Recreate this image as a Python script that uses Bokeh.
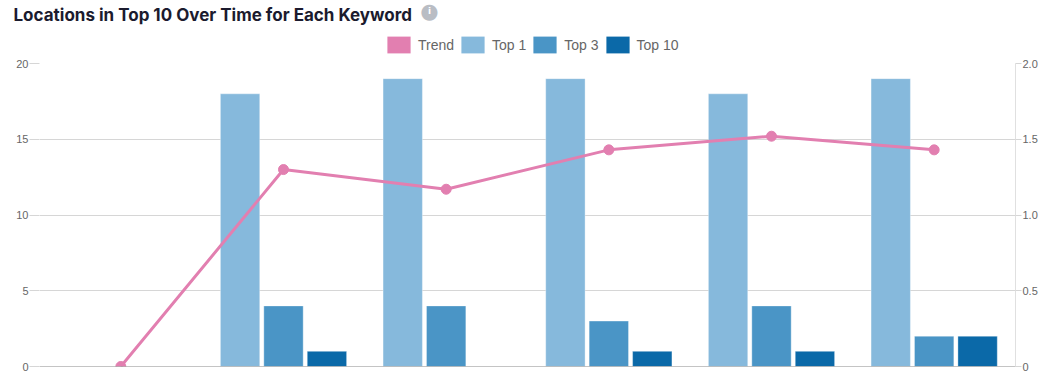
from bokeh.plotting import figure
from bokeh.layouts import column
from bokeh.models import (Range1d, FactorRange, LinearAxis, FixedTicker, Span,
                          Label, Legend, LegendItem, ColumnDataSource)
from bokeh.transform import dodge
from bokeh.embed import file_html
from bokeh.resources import INLINE

# ---- data ----
periods = ["1", "2", "3", "4", "5", "6"]
top1 = [0, 18, 19, 19, 18, 19]
top3 = [0, 4, 4, 3, 4, 2]
top10 = [0, 1, 0, 1, 1, 2]
trend = [0, 1.30, 1.17, 1.43, 1.52, 1.43]
left_ticks = [0, 5, 10, 15, 20]
right_ticks = [0, 0.5, 1.0, 1.5, 2.0]
right_tick_labels = {0: "0", 0.5: "0.5", 1: "1.0", 1.5: "1.5", 2: "2.0"}
title_text = "Locations in Top 10 Over Time for Each Keyword"
series_names = ["Trend", "Top 1", "Top 3", "Top 10"]

# ---- styles ----
C_TREND = "#e27fb0"
C_TOP1 = "#86b9dc"
C_TOP3 = "#4a95c6"
C_TOP10 = "#0b69a8"
colors = [C_TREND, C_TOP1, C_TOP3, C_TOP10]
GRID = "#d6d6d6"
TXT = "#666666"
FONT = "Liberation Sans"

W = 1040
HEAD_H = 56
MAIN_H = 373 - HEAD_H

# ---------------- header: title, info icon, legend ----------------
h = figure(width=W, height=HEAD_H, x_range=Range1d(0, 1), y_range=Range1d(0, 1),
           x_axis_type=None, y_axis_type=None, output_backend="svg",
           toolbar_location=None, min_border=0)
h.frame_align = False
h.outline_line_color = None
h.xgrid.visible = False
h.ygrid.visible = False

swatches = [h.vbar(x=[0.0], top=[0.0], width=0.0, fill_color=c,
                   line_color="white", line_alpha=0.0) for c in colors]
legend = Legend(items=[LegendItem(label=n, renderers=[r])
                       for n, r in zip(series_names, swatches)],
                orientation="horizontal", location=(384, 1),
                glyph_width=29, glyph_height=21, label_standoff=5, spacing=4,
                padding=7, margin=0, border_line_color=None,
                background_fill_alpha=0, label_text_font_size="14px",
                label_text_color=TXT, label_text_font=FONT)
h.add_layout(legend, "center")

h.add_layout(Label(x=13, y=HEAD_H - 14, x_units="screen", y_units="screen",
                   text=title_text, text_font="Inter", text_font_style="bold",
                   text_font_size="17px", text_color="#1b1b2e",
                   text_baseline="alphabetic", text_align="left"))
h.add_layout(Label(x=429, y=HEAD_H - 10, x_units="screen", y_units="screen",
                   text="\u25cf", text_font="DejaVu Sans", text_font_size="21px",
                   text_color="#b9bdc4", text_baseline="middle", text_align="center"))
h.add_layout(Label(x=429, y=HEAD_H - 10, x_units="screen", y_units="screen",
                   text="i", text_font="DejaVu Sans", text_font_style="bold",
                   text_font_size="9px", text_color="white",
                   text_baseline="middle", text_align="center"))

# ---------------- main chart ----------------
p = figure(width=W, height=MAIN_H,
           x_range=FactorRange(factors=periods), y_range=Range1d(0, 20),
           output_backend="svg", toolbar_location=None,
           min_border_left=39, min_border_right=22,
           min_border_top=63 - HEAD_H, min_border_bottom=7)
p.frame_align = False
p.extra_y_ranges = {"trend": Range1d(0, 2)}
p.outline_line_color = None
p.xaxis.visible = False
p.xgrid.visible = False

p.yaxis.ticker = FixedTicker(ticks=left_ticks)
p.ygrid.grid_line_color = GRID
p.yaxis.axis_line_color = None
p.yaxis.major_tick_out = 10
p.yaxis.major_tick_in = 0
p.yaxis.major_tick_line_color = GRID
p.yaxis.minor_tick_line_color = None
p.yaxis.major_label_text_font_size = "11px"
p.yaxis.major_label_text_color = TXT
p.yaxis.major_label_text_font = FONT
p.yaxis.major_label_standoff = 1

ax2 = LinearAxis(y_range_name="trend", ticker=FixedTicker(ticks=right_ticks),
                 axis_line_color="#e0e0e0", major_tick_out=6, major_tick_in=0,
                 major_tick_line_color=GRID, minor_tick_line_color=None,
                 major_label_text_font_size="11px", major_label_text_color=TXT,
                 major_label_text_font=FONT, major_label_standoff=1,
                 major_label_overrides=right_tick_labels)
p.add_layout(ax2, "right")

src = ColumnDataSource(dict(period=periods, top1=top1, top3=top3, top10=top10))
bw = 0.242
p.vbar(x=dodge("period", -0.267, range=p.x_range), top="top1", width=bw,
       source=src, fill_color=C_TOP1, line_color="white", line_alpha=0.35)
p.vbar(x=dodge("period", 0.0, range=p.x_range), top="top3", width=bw,
       source=src, fill_color=C_TOP3, line_color="white", line_alpha=0.35)
p.vbar(x=dodge("period", 0.267, range=p.x_range), top="top10", width=bw,
       source=src, fill_color=C_TOP10, line_color="white", line_alpha=0.35)

p.add_layout(Span(location=0, dimension="width", line_color="#8a8a8a", line_width=1))

p.line(periods, trend, y_range_name="trend", line_color=C_TREND, line_width=3)
p.scatter(periods, trend, y_range_name="trend", size=10, fill_color=C_TREND,
          line_color=C_TREND)

layout = column(h, p, spacing=0)
open("out.html", "w").write(file_html(layout, INLINE))
